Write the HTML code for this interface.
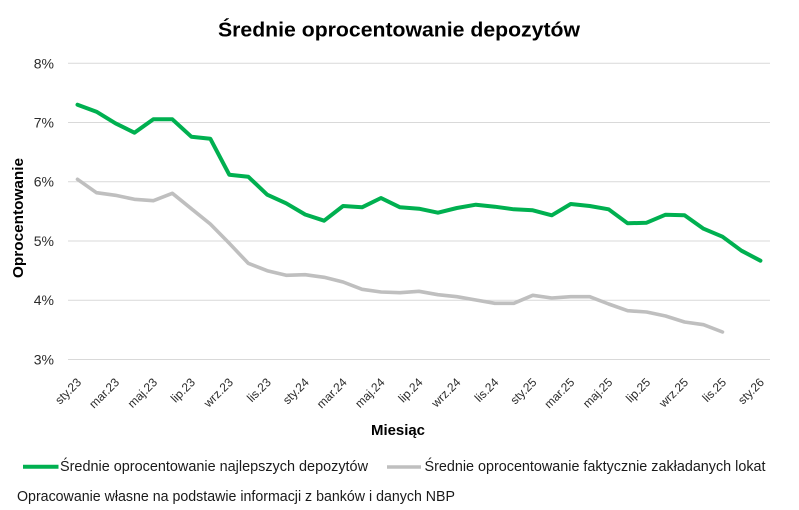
<!DOCTYPE html>
<html>
<head>
<meta charset="utf-8">
<style>
html,body{margin:0;padding:0;background:#fff;}
svg{display:block;}
text{font-family:"Liberation Sans",sans-serif;}
</style>
</head>
<body>
<svg width="799" height="510" viewBox="0 0 799 510" xmlns="http://www.w3.org/2000/svg">
<rect width="799" height="510" fill="#fff"/>
<!-- title -->
<text x="399" y="36.5" text-anchor="middle" font-size="20" font-weight="bold" fill="#000" textLength="362" lengthAdjust="spacingAndGlyphs">Średnie oprocentowanie depozytów</text>

<!-- grid -->
<g stroke="#D9D9D9" stroke-width="1">
<line x1="68" y1="63.3" x2="770" y2="63.3"/>
<line x1="68" y1="122.5" x2="770" y2="122.5"/>
<line x1="68" y1="181.7" x2="770" y2="181.7"/>
<line x1="68" y1="241" x2="770" y2="241"/>
<line x1="68" y1="300.2" x2="770" y2="300.2"/>
<line x1="68" y1="359.5" x2="770" y2="359.5"/>
</g>

<!-- y tick labels -->
<g font-size="14" fill="#2b2b2b" text-anchor="end">
<text x="54" y="68.3">8%</text>
<text x="54" y="127.5">7%</text>
<text x="54" y="186.7">6%</text>
<text x="54" y="246">5%</text>
<text x="54" y="305.2">4%</text>
<text x="54" y="364.5">3%</text>
</g>

<!-- y axis title -->
<text transform="translate(23,218) rotate(-90)" text-anchor="middle" font-size="14.5" font-weight="bold" fill="#000" textLength="120" lengthAdjust="spacingAndGlyphs">Oprocentowanie</text>

<!-- x tick labels -->
<g font-size="12" fill="#2b2b2b" text-anchor="end">
<text transform="translate(82,383) rotate(-45)">sty.23</text>
<text transform="translate(120,383) rotate(-45)">mar.23</text>
<text transform="translate(158,383) rotate(-45)">maj.23</text>
<text transform="translate(195.9,383) rotate(-45)">lip.23</text>
<text transform="translate(233.8,383) rotate(-45)">wrz.23</text>
<text transform="translate(271.7,383) rotate(-45)">lis.23</text>
<text transform="translate(309.7,383) rotate(-45)">sty.24</text>
<text transform="translate(347.6,383) rotate(-45)">mar.24</text>
<text transform="translate(385.5,383) rotate(-45)">maj.24</text>
<text transform="translate(423.5,383) rotate(-45)">lip.24</text>
<text transform="translate(461.4,383) rotate(-45)">wrz.24</text>
<text transform="translate(499.3,383) rotate(-45)">lis.24</text>
<text transform="translate(537.3,383) rotate(-45)">sty.25</text>
<text transform="translate(575.2,383) rotate(-45)">mar.25</text>
<text transform="translate(613.2,383) rotate(-45)">maj.25</text>
<text transform="translate(651.1,383) rotate(-45)">lip.25</text>
<text transform="translate(689,383) rotate(-45)">wrz.25</text>
<text transform="translate(727,383) rotate(-45)">lis.25</text>
<text transform="translate(764.9,383) rotate(-45)">sty.26</text>
</g>

<!-- x axis title -->
<text x="398" y="435" text-anchor="middle" font-size="14.5" font-weight="bold" fill="#000" textLength="54" lengthAdjust="spacingAndGlyphs">Miesiąc</text>

<!-- gray series -->
<polyline fill="none" stroke="#BFBFBF" stroke-width="3.6" stroke-linejoin="round" stroke-linecap="round"
points="77.5,179.3 96.47,192.7 115.44,195.3 134.41,199.3 153.38,200.7 172.35,193.3 191.32,208.7 210.29,224 229.26,243.3 248.23,263.3 267.2,270.7 286.17,275.3 305.14,274.7 324.11,277.3 343.08,282 362.05,289.3 381.02,292 399.99,292.7 418.96,291.3 437.93,294.7 456.9,296.7 475.87,300 494.84,303.3 513.81,303.3 532.78,295.3 551.75,298 570.72,296.7 589.69,296.7 608.66,304 627.63,310.7 646.6,312 665.57,316 684.54,322 703.51,324.7 722.48,332"/>

<!-- green series -->
<polyline fill="none" stroke="#00B050" stroke-width="4" stroke-linejoin="round" stroke-linecap="round"
points="77.5,104.7 96.47,111.7 115.44,123.3 134.41,132.7 153.38,119.3 172.35,119.3 191.32,136.7 210.29,138.7 229.26,174.7 248.23,176.7 267.2,194.7 286.17,203.3 305.14,214.5 324.11,220.7 343.08,206 362.05,207.3 381.02,198 399.99,207.3 418.96,208.7 437.93,212.7 456.9,208 475.87,204.7 494.84,206.7 513.81,209.3 532.78,210.3 551.75,215.3 570.72,204 589.69,206 608.66,209.3 627.63,223.3 646.6,222.7 665.57,214.7 684.54,215.3 703.51,228.7 722.48,236.7 741.45,250.7 760.42,260.7"/>

<!-- legend -->
<line x1="23" y1="466.7" x2="58.5" y2="466.7" stroke="#00B050" stroke-width="4"/>
<text x="60" y="471" font-size="14.5" fill="#1a1a1a" textLength="308" lengthAdjust="spacingAndGlyphs">Średnie oprocentowanie najlepszych depozytów</text>
<line x1="387" y1="467" x2="421" y2="467" stroke="#BFBFBF" stroke-width="3.6"/>
<text x="424.5" y="471" font-size="14.5" fill="#1a1a1a" textLength="341" lengthAdjust="spacingAndGlyphs">Średnie oprocentowanie faktycznie zakładanych lokat</text>

<!-- footer -->
<text x="17" y="501" font-size="14.5" fill="#1a1a1a" textLength="438" lengthAdjust="spacingAndGlyphs">Opracowanie własne na podstawie informacji z banków i danych NBP</text>
</svg>
</body>
</html>
